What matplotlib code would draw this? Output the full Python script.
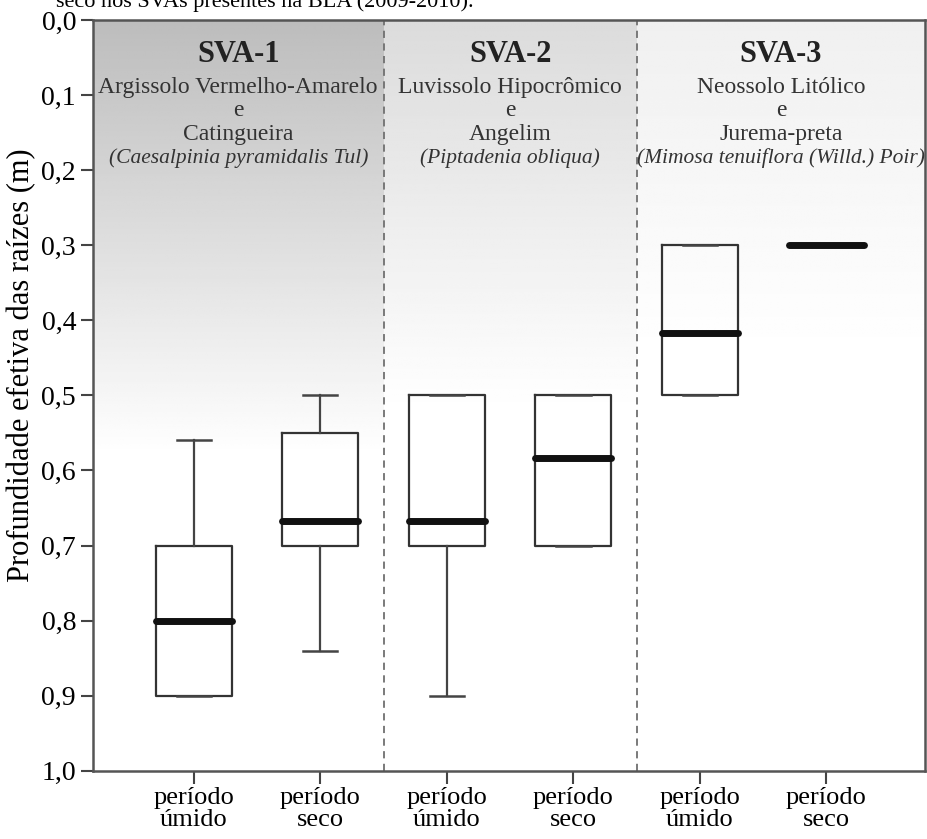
import matplotlib
matplotlib.use("Agg")
import matplotlib.pyplot as plt
import numpy as np

plt.rcParams['font.family'] = ['Liberation Serif', 'DejaVu Serif']

# box statistics (depth in m)
periods = ["período\númido", "período\nseco"] * 3
q1 = [0.70, 0.55, 0.50, 0.50, 0.30, 0.30]
q3 = [0.90, 0.70, 0.70, 0.70, 0.50, 0.30]
medians = [0.80, 0.667, 0.667, 0.583, 0.417, 0.30]
whis_lo = [0.56, 0.50, 0.50, 0.50, 0.30, 0.30]
whis_hi = [0.90, 0.84, 0.90, 0.70, 0.50, 0.30]

# panel headers
sva_names = ["SVA-1", "SVA-2", "SVA-3"]
soils = ["Argissolo Vermelho-Amarelo", "Luvissolo Hipocrômico", "Neossolo Litólico"]
plants = ["Catingueira", "Angelim", "Jurema-preta"]
species = ["(Caesalpinia pyramidalis Tul)", "(Piptadenia obliqua)",
           "(Mimosa tenuiflora (Willd.) Poir)"]
panel_edges = [0.2, 2.5, 4.5, 6.78]

fig = plt.figure(figsize=(9.27, 8.39), dpi=100)
ax = fig.add_axes([0.1, 0.0814, 0.898, 0.8946])

# gradient backgrounds per panel
grad_top = [0.74, 0.86, 0.94]
grad_end = [0.58, 0.52, 0.45]
yy = np.linspace(0, 1, 300)
for i in range(3):
    g = grad_top[i] + (1 - grad_top[i]) * np.clip(yy / grad_end[i], 0, 1)
    img = np.repeat(g[:, None], 2, axis=1)
    ax.imshow(img, cmap='gray', vmin=0, vmax=1, aspect='auto',
              extent=[panel_edges[i], panel_edges[i + 1], 1, 0],
              interpolation='bilinear', zorder=0)

for xv in panel_edges[1:3]:
    ax.axvline(xv, color='#707070', lw=1.3, ls=(0, (4, 3)), zorder=1)

stats = []
for i in range(6):
    stats.append(dict(med=medians[i], q1=q1[i], q3=q3[i],
                      whislo=whis_lo[i], whishi=whis_hi[i], fliers=[]))

ax.bxp(stats, positions=np.arange(1, 7), widths=0.6, capwidths=0.27,
       showfliers=False, patch_artist=False,
       boxprops=dict(color='#333333', lw=1.6),
       whiskerprops=dict(color='#444444', lw=1.6),
       capprops=dict(color='#444444', lw=1.8),
       medianprops=dict(color='#111111', lw=5, solid_capstyle='round'))

ax.set_xlim(panel_edges[0], panel_edges[-1])
ax.set_ylim(1.0, 0.0)
ax.set_yticks(np.arange(0, 1.01, 0.1))
ax.set_yticklabels([f"{v:.1f}".replace('.', ',') for v in np.arange(0, 1.01, 0.1)],
                   fontsize=20)
ax.set_xticks(np.arange(1, 7))
ax.set_xticklabels(periods, fontsize=19, linespacing=0.98)
ax.tick_params(axis='both', direction='out', length=9, width=1.5, color='#444444')
ax.tick_params(axis='x', pad=3)
ax.tick_params(axis='y', pad=3)
for s in ax.spines.values():
    s.set_color('#555555')
    s.set_linewidth(1.8)
ax.set_ylabel("Profundidade efetiva das raízes (m)", fontsize=22)
ax.yaxis.set_label_coords(-0.068, 0.54)

for i in range(3):
    xc = (panel_edges[i] + panel_edges[i + 1]) / 2
    ax.text(xc, 0.046, sva_names[i], ha='center', va='center', fontsize=22,
            fontweight='bold', color='#222222')
    ax.text(xc, 0.09, soils[i], ha='center', va='center', fontsize=17, color='#333333')
    ax.text(xc, 0.121, "e", ha='center', va='center', fontsize=17, color='#333333')
    ax.text(xc, 0.153, plants[i], ha='center', va='center', fontsize=17, color='#333333')
    ax.text(xc, 0.184, species[i], ha='center', va='center', fontsize=15.5,
            style='italic', color='#333333')

fig.text(0.06, 1 - 7 / 839, "seco nos SVAs presentes na BLA (2009-2010).",
         fontsize=16, va='baseline', ha='left')

fig.savefig("out.png", dpi=100)
